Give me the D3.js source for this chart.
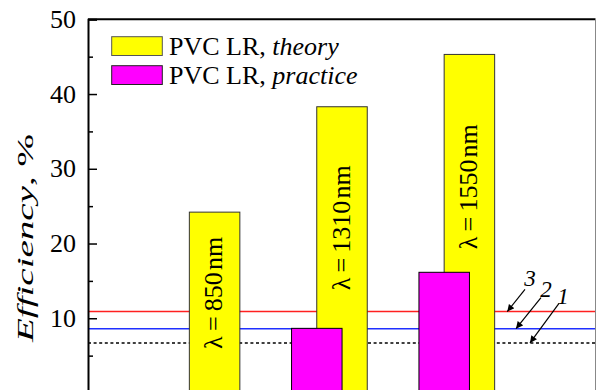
<!DOCTYPE html>
<html>
<head>
<meta charset="utf-8">
<script src="https://cdn.jsdelivr.net/npm/d3@7"></script>
<style>
  html, body { margin: 0; padding: 0; background: #fff; }
  svg { display: block; }
  svg text { font-family: "Liberation Serif", "DejaVu Serif", serif; }
</style>
</head>
<body>
<svg id="chart" width="596" height="390"></svg>
<script>
// Wavelength groups and measured / calculated efficiencies (%)
const wavelengths = ["850", "1310", "1550"];
const theory = [24.2, 38.3, 45.3];
const practice = [null, 8.65, 16.15];

// Reference efficiency levels, numbered 1..3
const refLevels = [6.7, 8.6, 10.9];
const refNames = ["1", "2", "3"];

// Axis ticks
const yMajorTicks = [0, 10, 20, 30, 40, 50];
const yTickLabels = ["10", "20", "30", "40", "50"];
const yMinorTicks = [5, 15, 25, 35, 45];

const svg = d3.select("#chart");
const W = 596, H = 390;
const plotL = 88, plotT = 19.3, plotR = 595.5;

const y = d3.scaleLinear().domain([0, 50]).range([393, plotT]);
const x = d3.scaleBand().domain(wavelengths).range([138.3, 520.5]).padding(0);
const barW = 50.5, shift = 12.65;

// reference lines (drawn under the bars)
const refColors = ["#000", "#1f2fff", "#ff2020"];
refLevels.forEach((v, i) => {
  const ln = svg.append("line")
    .attr("x1", plotL).attr("x2", plotR)
    .attr("y1", y(v)).attr("y2", y(v))
    .attr("stroke", refColors[i])
    .attr("stroke-width", i === 0 ? 1.5 : 1.6);
  if (i === 0) ln.attr("stroke-dasharray", "3,2.6");
});

// theory bars
svg.selectAll("rect.theory").data(wavelengths).join("rect")
  .attr("class", "theory")
  .attr("x", d => x(d) + x.bandwidth() / 2 - shift)
  .attr("width", barW)
  .attr("y", (d, i) => y(theory[i]))
  .attr("height", (d, i) => y(0) - y(theory[i]))
  .attr("fill", "#ffff00")
  .attr("stroke", "#333")
  .attr("stroke-width", 1);

// wavelength labels inside the theory bars (centre height in data units)
const labelMid = [13.4, 22.1, 27.6];
svg.selectAll("text.lam").data(wavelengths).join("text")
  .attr("class", "lam")
  .attr("transform", (d, i) => `translate(${x(d) + x.bandwidth() / 2 - shift + barW / 2 - 1},${y(labelMid[i])}) rotate(-90)`)
  .attr("text-anchor", "middle")
  .attr("dominant-baseline", "central")
  .attr("font-size", 26)
  .text(d => `λ\u2009=\u2009${d}\u200anm`);

// practice bars
const pr = wavelengths.map((d, i) => ({ d, v: practice[i] })).filter(o => o.v != null);
svg.selectAll("rect.practice").data(pr).join("rect")
  .attr("class", "practice")
  .attr("x", o => x(o.d) + x.bandwidth() / 2 + shift - barW)
  .attr("width", barW)
  .attr("y", o => y(o.v))
  .attr("height", o => y(0) - y(o.v))
  .attr("fill", "#ff00ff")
  .attr("stroke", "#000")
  .attr("stroke-width", 1);

// frame
svg.append("line").attr("x1", plotL).attr("x2", plotR).attr("y1", plotT).attr("y2", plotT)
  .attr("stroke", "#000").attr("stroke-width", 2);
svg.append("line").attr("x1", plotR).attr("x2", plotR).attr("y1", plotT).attr("y2", H)
  .attr("stroke", "#888").attr("stroke-width", 1);

// y axis
const yAxis = d3.axisRight(y).tickValues(yMajorTicks).tickSize(9).tickFormat("");
const ga = svg.append("g").attr("transform", `translate(${plotL},0)`).call(yAxis);
ga.select(".domain").attr("stroke", "#000").attr("stroke-width", 2);
ga.selectAll(".tick line").attr("stroke", "#000").attr("stroke-width", 1.5);
const yMinor = d3.axisRight(y).tickValues(yMinorTicks).tickSize(5).tickFormat("");
const gm = svg.append("g").attr("transform", `translate(${plotL},0)`).call(yMinor);
gm.select(".domain").remove();
gm.selectAll(".tick line").attr("stroke", "#000").attr("stroke-width", 1.5);

svg.selectAll("text.ytick").data(yTickLabels).join("text")
  .attr("class", "ytick")
  .attr("x", 76).attr("y", d => y(+d))
  .attr("text-anchor", "end")
  .attr("dominant-baseline", "central")
  .attr("font-size", 26)
  .text(d => d);

// y title
const yt = svg.append("text")
  .attr("transform", "translate(25,238) rotate(-90)")
  .attr("text-anchor", "middle")
  .attr("dominant-baseline", "central")
  .attr("font-size", 23)
  .attr("textLength", 208)
  .attr("lengthAdjust", "spacingAndGlyphs");
yt.append("tspan").attr("font-style", "italic").text("Efficiency");
yt.append("tspan").text(", %");

// legend
const legend = [
  { fill: "#ffff00", stroke: "#555", name: "PVC LR, ", kind: "theory" },
  { fill: "#ff00ff", stroke: "#222", name: "PVC LR, ", kind: "practice" }
];
legend.forEach((L, i) => {
  const yy = 36.7 + i * 29;
  svg.append("rect").attr("x", 111.7).attr("y", yy).attr("width", 50.6).attr("height", 18.8)
    .attr("fill", L.fill).attr("stroke", L.stroke).attr("stroke-width", 1);
  const t = svg.append("text").attr("x", 169).attr("y", yy + 18.3).attr("font-size", 26);
  t.append("tspan").text(L.name);
  t.append("tspan").attr("font-style", "italic").text(L.kind);
});

// numbered pointers to the reference lines
svg.append("defs").append("marker")
  .attr("id", "arr").attr("viewBox", "0 0 10 10").attr("refX", 10).attr("refY", 5)
  .attr("markerWidth", 9).attr("markerHeight", 7).attr("markerUnits", "userSpaceOnUse")
  .attr("orient", "auto")
  .append("path").attr("d", "M0,0 L10,5 L0,10 Z").attr("fill", "#000");

const pointerFrom = [[559, 303.3], [541, 297.7], [525, 289.3]];
const pointerDX = [-29, -25, -17.7];
const labelPos = [[563, 296], [546, 289], [530, 278]];
refLevels.forEach((v, i) => {
  svg.append("line")
    .attr("x1", pointerFrom[i][0]).attr("y1", pointerFrom[i][1])
    .attr("x2", pointerFrom[i][0] + pointerDX[i]).attr("y2", y(v))
    .attr("stroke", "#000").attr("stroke-width", 1.2)
    .attr("marker-end", "url(#arr)");
  svg.append("text")
    .attr("x", labelPos[i][0]).attr("y", labelPos[i][1])
    .attr("text-anchor", "middle").attr("dominant-baseline", "central")
    .attr("font-size", 23).attr("font-style", "italic")
    .text(refNames[i]);
});
</script>
</body>
</html>
